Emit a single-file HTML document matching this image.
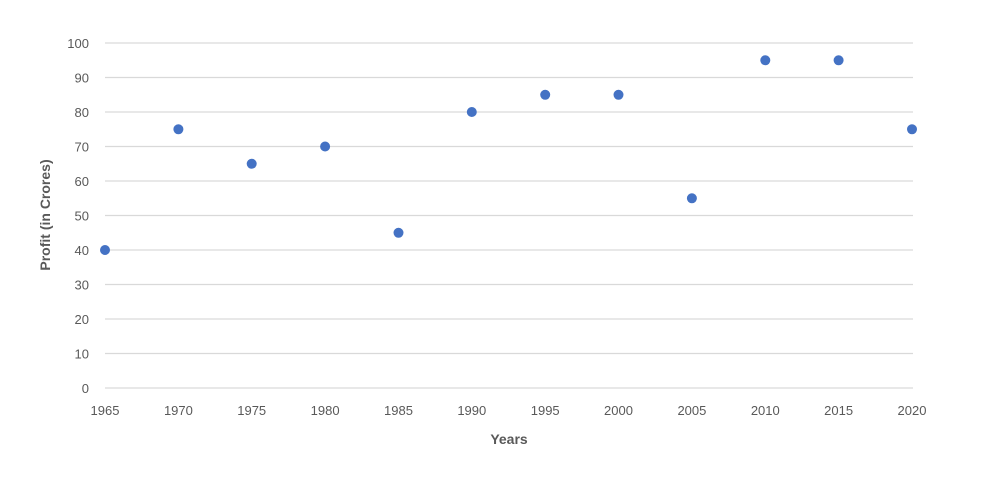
<!DOCTYPE html>
<html><head><style>body{margin:0;background:#fff}svg{display:block}text{font-family:"Liberation Sans",sans-serif;fill:#595959}</style></head>
<body>
<svg width="996" height="478" xmlns="http://www.w3.org/2000/svg">
<g stroke="#d9d9d9" stroke-width="1.3">
<line x1="105" x2="913" y1="43" y2="43"/><line x1="105" x2="913" y1="77.5" y2="77.5"/><line x1="105" x2="913" y1="112" y2="112"/><line x1="105" x2="913" y1="146.5" y2="146.5"/><line x1="105" x2="913" y1="181" y2="181"/><line x1="105" x2="913" y1="215.5" y2="215.5"/><line x1="105" x2="913" y1="250" y2="250"/><line x1="105" x2="913" y1="284.5" y2="284.5"/><line x1="105" x2="913" y1="319" y2="319"/><line x1="105" x2="913" y1="353.5" y2="353.5"/><line x1="105" x2="913" y1="388" y2="388"/>
</g>
<g font-size="13" text-anchor="end">
<text x="89" y="48">100</text><text x="89" y="82.5">90</text><text x="89" y="117">80</text><text x="89" y="151.5">70</text><text x="89" y="186">60</text><text x="89" y="220.5">50</text><text x="89" y="255">40</text><text x="89" y="289.5">30</text><text x="89" y="324">20</text><text x="89" y="358.5">10</text><text x="89" y="393">0</text>
</g>
<g font-size="13" text-anchor="middle">
<text x="105" y="415">1965</text><text x="178.4" y="415">1970</text><text x="251.7" y="415">1975</text><text x="325.1" y="415">1980</text><text x="398.5" y="415">1985</text><text x="471.8" y="415">1990</text><text x="545.2" y="415">1995</text><text x="618.5" y="415">2000</text><text x="691.9" y="415">2005</text><text x="765.3" y="415">2010</text><text x="838.6" y="415">2015</text><text x="912" y="415">2020</text>
</g>
<text x="509" y="444" font-size="14" font-weight="bold" text-anchor="middle">Years</text>
<text transform="translate(50,215) rotate(-90)" font-size="14" font-weight="bold" text-anchor="middle">Profit (in Crores)</text>
<g fill="#4472c4">
<circle cx="105" cy="250" r="5"/><circle cx="178.4" cy="129.3" r="5"/><circle cx="251.7" cy="163.8" r="5"/><circle cx="325.1" cy="146.5" r="5"/><circle cx="398.5" cy="232.8" r="5"/><circle cx="471.8" cy="112" r="5"/><circle cx="545.2" cy="94.8" r="5"/><circle cx="618.5" cy="94.8" r="5"/><circle cx="691.9" cy="198.3" r="5"/><circle cx="765.3" cy="60.3" r="5"/><circle cx="838.6" cy="60.3" r="5"/><circle cx="912" cy="129.3" r="5"/>
</g>
</svg>
</body></html>
